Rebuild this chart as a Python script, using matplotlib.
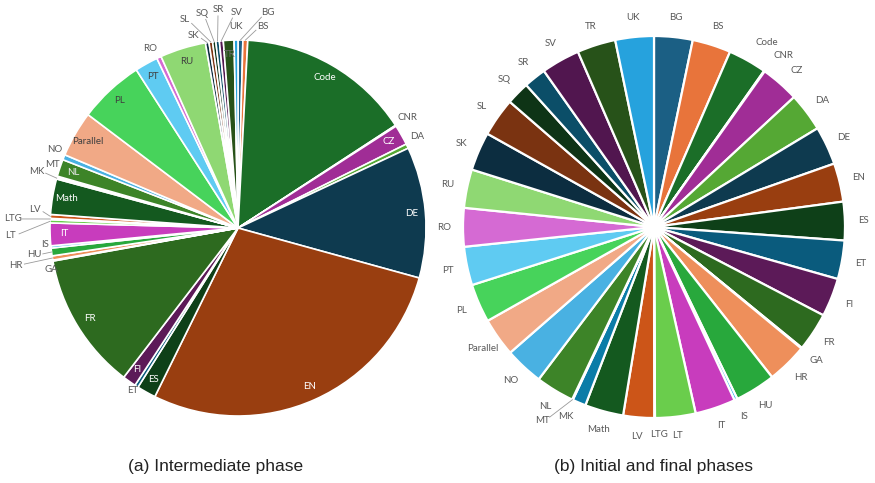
import numpy as np
import matplotlib.pyplot as plt
from matplotlib.patches import Circle

categories = ['BG', 'BS', 'Code', 'CNR', 'CZ', 'DA', 'DE', 'EN', 'ES', 'ET', 'FI', 'FR', 'GA', 'HR', 'HU',
              'IS', 'IT', 'LT', 'LTG', 'LV', 'Math', 'MK', 'MT', 'NL', 'NO', 'Parallel', 'PL', 'PT', 'RO',
              'RU', 'SK', 'SL', 'SQ', 'SR', 'SV', 'TR', 'UK']

# share of the data mix
intermediate = [1.5, 1.5, 54.0, 0.3, 6.3, 1.4, 40.6, 101.0, 5.9, 1.1, 4.2, 42.5, 0.3, 1.3, 2.4,
                0.7, 7.0, 1.0, 0.4, 1.2, 11.0, 0.5, 0.4, 5.3, 1.6, 14.2, 20.2, 7.2, 1.4,
                14.2, 1.1, 1.1, 1.0, 1.1, 1.2, 3.3, 1.2]
initial_final = [1, 1, 1, 0.02, 1, 1, 1, 1, 1, 1, 1, 1, 0.02, 1.05, 1.05,
                 0.08, 1.05, 1.05, 0.02, 0.8, 1, 0.35, 0.02, 1, 1, 1, 1, 1, 1,
                 1, 1, 1, 0.6, 0.58, 1, 1, 1]

colors = ['#1b5f84', '#e8743b', '#1b6e28', '#2a7a3a', '#a02d96', '#55a834', '#0e3a4f', '#993e10',
          '#0e4018', '#0a5b7d', '#5c1a58', '#2d6a1f', '#6ab04c', '#ee8f5b', '#28a83c', '#29b3ea',
          '#c83cbd', '#6acd4c', '#9bd17a', '#cc5518', '#14591f', '#0b7ca8', '#2a9fd6', '#3d8428',
          '#49b1e2', '#f1a986', '#47d35b', '#5fcbf2', '#d56ad3', '#8fd873', '#0c2d40', '#7a3311',
          '#0e3416', '#0b4e68', '#51164f', '#275219', '#26a2dd']

GREY = '#595959'
LINE = '#9a9a9a'
FONT = 'Lato'

# labels drawn inside the left pie, with their text colour
left_inside = {'Code': 'white', 'CZ': 'white', 'DE': 'white', 'EN': 'white', 'ES': 'white',
               'FI': 'white', 'FR': 'white', 'IT': 'white', 'Math': 'white', 'NL': '#e8e8e8',
               'Parallel': '#404040', 'PL': '#404040', 'PT': '#404040', 'RU': '#404040', 'TR': '#6a6a6a'}
# outside labels of the left pie: (angle clockwise from top, radius factor, leader line)
left_outside = {
    'BG': (7.9, 1.155, True), 'BS': (7.1, 1.08, True), 'UK': (-0.6, 1.07, False),
    'SV': (-0.3, 1.145, True), 'SR': (-5.2, 1.165, True), 'SQ': (-9.5, 1.155, True),
    'SL': (-14.3, 1.145, True), 'SK': (-13.1, 1.05, True), 'RO': (-26, 1.065, False),
    'NO': (293.1, 1.06, False), 'MT': (288.8, 1.04, False), 'MK': (285.8, 1.11, True),
    'LV': (275.3, 1.085, True), 'LTG': (272.3, 1.2, True), 'LT': (268, 1.21, True),
    'IS': (265, 1.03, False), 'HU': (262.5, 1.095, True), 'HR': (260.5, 1.2, True),
    'GA': (257.3, 1.015, False), 'ET': (213, 1.03, False), 'CNR': (57, 1.075, False),
    'DA': (63, 1.07, False)}
# right pie label tweaks
right_outside = {'Code': (31.5, 1.13, False), 'CNR': (37, 1.125, False), 'CZ': (42.3, 1.11, False),
                 'MT': (210, 1.17, True), 'MK': (204.8, 1.095, False), 'LTG': (178.5, 1.085, False)}


def cw_point(c, r, a):
    return c[0] + r * np.sin(np.radians(a)), c[1] + r * np.cos(np.radians(a))


def mid_cw(w):
    return 90 - (w.theta1 + w.theta2) / 2


def leader(ax, c, R, pos, a_mid):
    tx, ty = cw_point(c, R * 1.0, a_mid)
    d = np.array([tx - pos[0], ty - pos[1]])
    d = d / np.linalg.norm(d)
    sx, sy = pos[0] + d[0] * 9, pos[1] + d[1] * 6
    ax.plot([sx, tx], [sy, ty], color=LINE, lw=0.6, zorder=3)


fig = plt.figure(figsize=(8.75, 4.83), dpi=100)
ax = fig.add_axes([0, 0, 1, 1])

c1, R1 = (238, 255), 188
c2, R2 = (654, 256), 191

w1, _ = ax.pie(intermediate, colors=colors, startangle=90, counterclock=False, center=c1, radius=R1,
               wedgeprops=dict(edgecolor='white', linewidth=1.2))
w2, _ = ax.pie(initial_final, colors=colors, startangle=90, counterclock=False, center=c2, radius=R2,
               wedgeprops=dict(edgecolor='white', linewidth=1.6))
ax.add_patch(Circle(c2, 7, color='white', zorder=5))

for name, w in zip(categories, w1):
    a = mid_cw(w)
    if name in left_inside:
        x, y = cw_point(c1, R1 * 0.925, a)
        ax.text(x, y, name, ha='center', va='center', fontsize=7, family=FONT, color=left_inside[name])
    elif name in left_outside:
        la, lr, has_line = left_outside[name]
        x, y = cw_point(c1, R1 * lr, la)
        ax.text(x, y, name, ha='center', va='center', fontsize=7, family=FONT, color=GREY)
        if has_line:
            leader(ax, c1, R1, (x, y), a)

for name, w in zip(categories, w2):
    a = mid_cw(w)
    la, lr, has_line = right_outside.get(name, (a, 1.1, False))
    x, y = cw_point(c2, R2 * lr, la)
    ax.text(x, y, name, ha='center', va='center', fontsize=7, family=FONT, color=GREY)
    if has_line:
        leader(ax, c2, R2, (x, y), a)

ax.text(216, 17, '(a) Intermediate phase', ha='center', va='center', fontsize=12.5,
        family='Liberation Sans', color='#222222')
ax.text(653, 17, '(b) Initial and final phases', ha='center', va='center', fontsize=12.5,
        family='Liberation Sans', color='#222222')

ax.set_xlim(0, 875)
ax.set_ylim(0, 483)
ax.set_aspect('equal')
ax.axis('off')
fig.savefig('out.png', dpi=100, facecolor='white')
